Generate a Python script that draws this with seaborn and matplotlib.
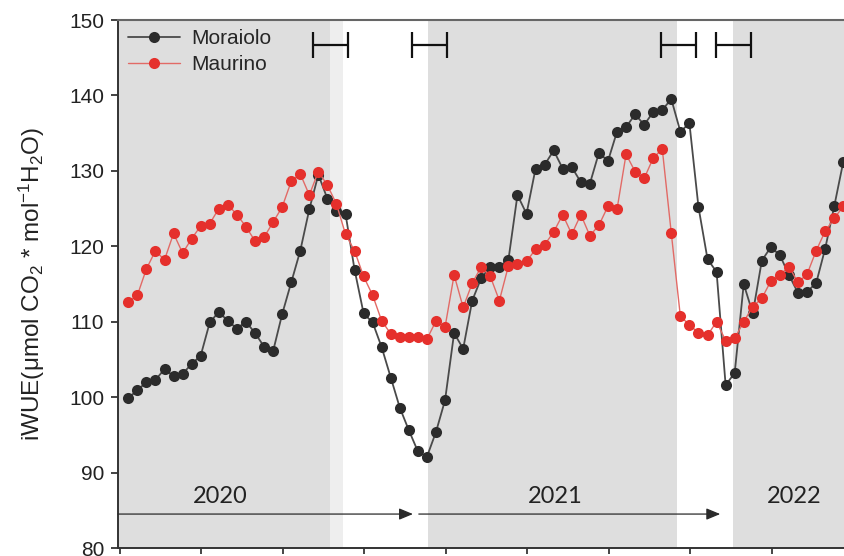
import matplotlib
matplotlib.use("Agg")
import matplotlib.pyplot as plt
import numpy as np
import pandas as pd
import seaborn as sns

# ---------------- data ----------------
weeks = list(range(80))  # weekly sampling index

moraiolo = [99.9, 100.9, 102.0, 102.3, 103.7, 102.8, 103.1, 104.4, 105.5, 109.9,
            111.3, 110.1, 109.1, 110.0, 108.5, 106.7, 106.1, 111.0, 115.2, 119.4,
            124.9, 129.5, 126.3, 124.7, 124.3, 116.9, 111.1, 109.9, 106.6, 102.6,
            98.6, 95.6, 92.8, 92.1, 95.4, 99.6, 108.5, 106.4, 112.8, 115.8,
            117.3, 117.3, 118.2, 126.8, 124.3, 130.3, 130.8, 132.7, 130.3, 130.5,
            128.5, 128.3, 132.4, 131.3, 135.2, 135.8, 137.5, 136.1, 137.8, 138.1,
            139.5, 135.2, 136.3, 125.2, 118.3, 116.6, 101.6, 103.2, 115.0, 111.1,
            118.1, 119.9, 118.8, 116.2, 113.8, 114.0, 115.1, 119.7, 125.3, 131.2]

maurino = [112.6, 113.5, 117.0, 119.4, 118.2, 121.7, 119.1, 121.0, 122.7, 123.0,
           125.0, 125.5, 124.2, 122.6, 120.7, 121.2, 123.2, 125.2, 128.6, 129.6,
           126.8, 129.9, 128.1, 125.6, 121.6, 119.4, 116.0, 113.5, 110.1, 108.4,
           108.0, 108.0, 108.0, 107.7, 110.1, 109.3, 116.2, 111.9, 115.1, 117.3,
           116.0, 112.8, 117.4, 117.7, 118.0, 119.6, 120.2, 121.9, 124.2, 121.6,
           124.2, 121.4, 122.8, 125.3, 124.9, 132.2, 129.9, 129.0, 131.7, 132.9,
           121.7, 110.7, 109.6, 108.5, 108.2, 110.0, 107.5, 107.8, 110.0, 112.0,
           113.1, 115.4, 116.2, 117.3, 115.2, 116.3, 119.4, 122.0, 123.7, 125.3]

series_names = ["Moraiolo", "Maurino"]
y_ticks = [80, 90, 100, 110, 120, 130, 140, 150]
x_tick_positions = [-0.92, 8.08, 17.08, 26.08, 35.08, 44.08, 53.08, 62.08, 71.08]

years = ["2020", "2021", "2022"]
year_label_x = [10.2, 47.2, 73.6]
year_label_y = 86.85
year_arrow_start = [-1.14, 32.1, 65.9]
year_arrow_end = [31.45, 65.4, 79.4]
year_arrow_y = 84.5

interval_centers = [22.37, 33.28, 60.8, 66.87]
interval_halfwidth = 1.93
interval_y = 146.7

shaded_spans = [(-1.14, 22.3), (33.1, 60.6), (66.8, 79.3)]
light_spans = [(22.3, 23.7)]

# ---------------- style ----------------
sns.set_style("white")
plt.rcParams["font.family"] = ["Liberation Sans", "DejaVu Sans"]
plt.rcParams["mathtext.fontset"] = "custom"
plt.rcParams["mathtext.rm"] = "Liberation Sans"
plt.rcParams["mathtext.it"] = "Liberation Sans:italic"
plt.rcParams["mathtext.bf"] = "Liberation Sans:bold"
plt.rcParams["mathtext.default"] = "regular"

fig = plt.figure(figsize=(8.45, 5.56), dpi=100)
ax = fig.add_axes([118 / 845, 8 / 556, 727 / 845, 528 / 556])

for a, b in shaded_spans:
    ax.axvspan(a, b, color="#dedede", lw=0, zorder=0)
for a, b in light_spans:
    ax.axvspan(a, b, color="#eeeeee", lw=0, zorder=0)

df_m = pd.DataFrame({"week": weeks, "iWUE": moraiolo})
df_r = pd.DataFrame({"week": weeks, "iWUE": maurino})

sns.lineplot(data=df_m, x="week", y="iWUE", ax=ax, color="#4a4a4a",
             linewidth=1.3, marker="o", markersize=8, markerfacecolor="#2b2b2b",
             markeredgewidth=0, label=series_names[0], legend=False, zorder=3)
sns.lineplot(data=df_r, x="week", y="iWUE", ax=ax, color="#e26a66",
             linewidth=1.0, marker="o", markersize=8, markerfacecolor="#e5302c",
             markeredgewidth=0, label=series_names[1], legend=False, zorder=4)
handles = list(ax.lines[:2])

# interval brackets at top
ax.errorbar(interval_centers, [interval_y] * len(interval_centers),
            xerr=interval_halfwidth, fmt="none", ecolor="#111111",
            elinewidth=1.6, capsize=9.4, capthick=1.6, zorder=5)

# year arrows and labels
for s, e in zip(year_arrow_start, year_arrow_end):
    ax.annotate("", xy=(e, year_arrow_y), xytext=(s, year_arrow_y),
                arrowprops=dict(arrowstyle="-|>,head_length=0.6,head_width=0.25",
                                color="#2a2a2a", lw=0.9, mutation_scale=14,
                                shrinkA=0, shrinkB=0), zorder=5)
for t, xx in zip(years, year_label_x):
    ax.text(xx, year_label_y, t, ha="center", va="center", fontsize=17,
            family=["Lato", "DejaVu Sans"], color="#222222")

ax.set_xlim(-1.138, 79.19)
ax.set_ylim(80, 150)
ax.set_yticks(y_ticks)
ax.set_xticks(x_tick_positions)
ax.set_xticklabels([])
ax.tick_params(axis="y", direction="out", length=5, width=1.2, pad=5,
               labelsize=15, colors="#222222", left=True)
ax.tick_params(axis="x", direction="out", length=4, width=1.2, bottom=True)

for side in ["left", "bottom"]:
    ax.spines[side].set_color("#333333")
    ax.spines[side].set_linewidth(1.4)
ax.spines["top"].set_color("#666666")
ax.spines["top"].set_linewidth(1.5)
ax.spines["right"].set_visible(False)

ax.set_xlabel("")
ax.set_ylabel(r"iWUE(μmol CO$_2$ * mol$^{-1}$H$_2$O)", fontsize=17.5,
              color="#222222", labelpad=16)

ax.legend(handles=handles, labels=series_names, loc="upper left",
          bbox_to_anchor=(10 / 727, 1 - 9 / 528), frameon=False, fontsize=15,
          handlelength=2.5, handletextpad=0.55, labelspacing=0.35,
          borderpad=0, borderaxespad=0)

fig.savefig("out.png", dpi=100)
